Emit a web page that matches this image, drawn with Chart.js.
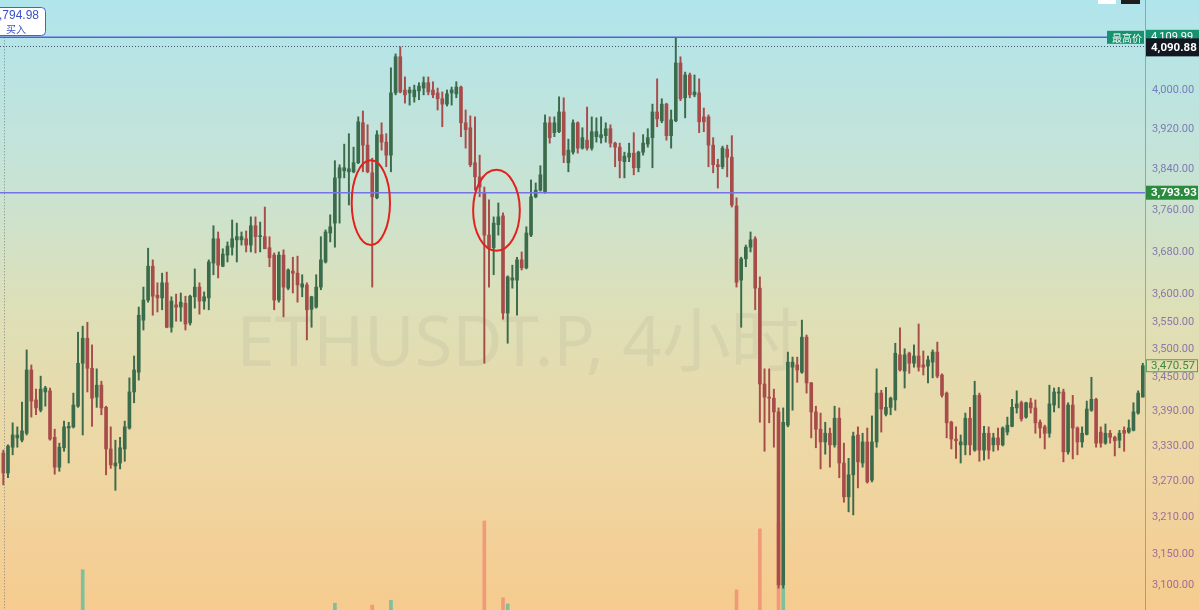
<!DOCTYPE html>
<html>
<head>
<meta charset="utf-8">
<script src="https://cdn.jsdelivr.net/npm/chart.js@4.4.1/dist/chart.umd.min.js"></script>
<style>
html, body { margin: 0; padding: 0; background: #f3d9a4; overflow: hidden; }
#wrap { width: 1199px; height: 610px; position: relative; }
</style>
</head>
<body>
<div id="wrap"><canvas id="chart" width="1199" height="610"></canvas></div>
<script>
// ETHUSDT.P 4h candles (oldest first)
const openPrices = [
  3318,3284,3328,3344,3340,3352,3463,3410,3392,3424,
  3426,3345,3294,3327,3361,3363,3399,3475,3520,3466,
  3415,3436,3397,3325,3296,3301,3325,3361,3424,3459,
  3553,3590,3653,3599,3594,3622,3540,3581,3577,3584,
  3548,3596,3614,3588,3594,3659,3705,3653,3674,3689,
  3703,3703,3705,3693,3730,3709,3709,3688,3674,3590,
  3674,3612,3644,3640,3614,3618,3573,3577,3614,3661,
  3716,3735,3823,3837,3835,3835,3853,3933,3888,3833,
  3784,3909,3894,3868,3994,4069,4000,3994,3986,3998,
  4004,4015,4000,3994,3982,3971,3994,3992,4006,3933,
  3923,3853,3825,3795,3712,3688,3732,3749,3566,3627,
  3627,3665,3650,3712,3786,3799,3795,3933,3913,3915,
  3955,3853,3874,3933,3882,3898,3882,3905,3903,3907,
  3921,3892,3884,3855,3864,3872,3843,3874,3890,3903,
  3955,3937,3971,3907,3937,4056,3984,4031,3990,3994,
  3945,3945,3888,3849,3845,3880,3864,3768,3627,3667,
  3689,3705,3612,3438,3415,3413,3389,3100,3366,3468,
  3472,3459,3522,3440,3389,3359,3337,3352,3332,3378,
  3301,3244,3281,3349,3301,3337,3272,3337,3422,3385,
  3397,3410,3490,3461,3493,3475,3488,3472,3470,3477,
  3495,3454,3422,3371,3342,3332,3332,3378,3323,3418,
  3323,3352,3332,3344,3332,3354,3364,3396,3405,3380,
  3405,3396,3371,3363,3352,3401,3422,3424,3320,3401,
  3361,3337,3350,3392,3411,3354,3335,3352,3345,3340,
  3357,3354,3357,3387,3415
];
const highPrices = [
  3323,3332,3370,3363,3406,3499,3472,3429,3452,3434,
  3431,3359,3335,3373,3371,3422,3531,3542,3549,3508,
  3465,3443,3399,3363,3340,3345,3373,3449,3488,3577,
  3614,3687,3665,3622,3640,3642,3596,3601,3603,3597,
  3599,3648,3622,3605,3665,3730,3718,3686,3699,3741,
  3735,3718,3720,3747,3747,3737,3766,3709,3678,3680,
  3684,3648,3670,3672,3637,3622,3597,3637,3709,3722,
  3751,3857,3849,3890,3911,3884,3945,3957,3929,3862,
  3917,3933,3911,4046,4075,4090,4027,4006,4010,4015,
  4027,4027,4017,4004,3996,4000,4006,4017,4008,3959,
  3947,3945,3868,3805,3780,3747,3774,3755,3635,3655,
  3670,3680,3728,3819,3813,3847,3949,3945,3945,3986,
  3984,3900,3939,3935,3923,3965,3945,3943,3945,3933,
  3929,3894,3892,3874,3892,3913,3876,3909,3921,3971,
  4023,3982,3973,3959,4109.99,4069,4037,4035,4031,4023,
  3963,3949,3903,3860,3886,3888,3907,3784,3670,3693,
  3718,3709,3633,3465,3465,3429,3396,3396,3495,3486,
  3486,3553,3526,3441,3399,3387,3371,3361,3399,3396,
  3335,3309,3354,3363,3352,3361,3382,3465,3427,3432,
  3415,3511,3539,3501,3495,3508,3546,3497,3488,3499,
  3513,3456,3424,3373,3363,3349,3387,3397,3443,3422,
  3364,3363,3352,3361,3363,3380,3411,3426,3408,3406,
  3413,3410,3375,3366,3436,3431,3432,3429,3405,3418,
  3363,3363,3408,3450,3413,3363,3368,3357,3347,3357,
  3363,3375,3405,3426,3475
];
const lowPrices = [
  3264,3276,3315,3328,3337,3349,3380,3384,3389,3399,
  3340,3282,3287,3321,3301,3361,3397,3349,3424,3364,
  3397,3384,3281,3292,3255,3291,3304,3359,3405,3445,
  3535,3586,3562,3568,3572,3539,3531,3551,3551,3535,
  3544,3575,3564,3573,3572,3637,3631,3652,3661,3674,
  3661,3693,3680,3680,3678,3680,3686,3652,3572,3586,
  3559,3609,3603,3586,3596,3517,3540,3575,3609,3659,
  3699,3689,3735,3823,3770,3833,3851,3835,3833,3614,
  3782,3878,3845,3835,3990,3994,3973,3969,3975,3980,
  3990,3990,3984,3959,3925,3967,3969,3984,3905,3882,
  3845,3799,3786,3475,3614,3637,3712,3555,3511,3612,
  3562,3646,3648,3709,3784,3797,3793,3892,3905,3913,
  3853,3835,3870,3872,3880,3878,3878,3894,3892,3894,
  3884,3845,3823,3823,3855,3829,3835,3868,3884,3843,
  3925,3933,3898,3882,3935,3978,3943,3984,3986,3913,
  3915,3845,3833,3803,3841,3825,3766,3614,3540,3652,
  3680,3572,3371,3321,3370,3328,3095,3095,3363,3392,
  3441,3457,3422,3344,3327,3291,3316,3294,3328,3276,
  3235,3219,3214,3259,3294,3267,3269,3328,3354,3382,
  3384,3392,3461,3431,3457,3468,3461,3454,3440,3449,
  3449,3415,3344,3325,3309,3301,3315,3315,3321,3304,
  3306,3308,3321,3323,3330,3349,3363,3387,3373,3378,
  3387,3352,3344,3325,3345,3389,3396,3303,3316,3308,
  3315,3328,3349,3390,3328,3328,3333,3335,3313,3327,
  3321,3352,3356,3385,3415
];
const closePrices = [
  3284,3330,3349,3349,3356,3463,3408,3396,3429,3431,
  3342,3294,3328,3363,3364,3401,3475,3520,3466,3413,
  3436,3396,3325,3298,3301,3327,3363,3424,3463,3562,
  3590,3653,3597,3594,3622,3540,3588,3577,3586,3546,
  3597,3614,3588,3596,3661,3705,3655,3676,3691,3705,
  3709,3709,3693,3730,3709,3711,3686,3669,3590,3674,
  3614,3646,3640,3618,3620,3572,3596,3614,3665,3718,
  3728,3823,3843,3843,3841,3853,3935,3888,3835,3786,
  3909,3894,3868,3994,4069,3996,3990,4000,4000,4008,
  4015,3996,3990,3982,3971,3992,4000,4006,3933,3919,
  3849,3825,3805,3712,3688,3735,3747,3566,3633,3631,
  3665,3650,3716,3786,3799,3829,3933,3903,3933,3955,
  3868,3878,3933,3882,3903,3882,3915,3915,3909,3921,
  3892,3884,3857,3866,3872,3843,3874,3892,3903,3955,
  3941,3971,3907,3939,4056,3982,4031,3990,3996,3935,
  3935,3888,3849,3845,3882,3864,3770,3623,3667,3689,
  3703,3612,3438,3415,3413,3389,3100,3371,3477,3477,
  3463,3522,3440,3389,3359,3337,3352,3332,3378,3301,
  3244,3281,3347,3303,3337,3269,3337,3422,3394,3397,
  3413,3493,3463,3490,3475,3488,3468,3468,3481,3495,
  3452,3418,3370,3342,3339,3337,3378,3332,3418,3323,
  3352,3323,3344,3332,3361,3366,3397,3403,3377,3405,
  3396,3370,3361,3352,3403,3424,3424,3320,3401,3361,
  3337,3352,3394,3411,3335,3335,3352,3345,3339,3352,
  3352,3361,3389,3422,3470.57
];

// only the volume bars that rise into view
const volIndex = [17, 71, 79, 83, 103, 107, 108, 157, 162, 166, 167];
const volValue = [66, 11, 8, 16, 146, 20, 10, 33, 133, 143, 44];

const priceTicks = [3100, 3150, 3210, 3270, 3330, 3390, 3450, 3500, 3550, 3600, 3680, 3760, 3840, 3920, 4000];

const highPrice = 4109.99;
const markPrice = 4090.88;
const alertPrice = 3793.93;
const lastPrice = 3470.57;
const orderPrice = 3794.98;

// red circles: candle index at centre, half width in candles, price top / bottom
const circleCenter = [78.7, 105.6];
const circleHalf = [4.1, 5.0];
const circleTop = [3858, 3839];
const circleBottom = [3693, 3682];

const UP = '#3a6b4b';
const DOWN = '#a84c4a';
const VOL_UP = '#7fbf9c';
const VOL_DOWN = '#f19a78';

const fmt = v => Number(v).toLocaleString('en-US', {minimumFractionDigits: 2, maximumFractionDigits: 2});
const isUp = i => closePrices[i] >= openPrices[i];

const wicks = closePrices.map((_, i) => ({x: i, y: [lowPrices[i], highPrices[i]]}));
const bodies = closePrices.map((_, i) => ({x: i, y: [openPrices[i], closePrices[i]]}));
const vols = volIndex.map((i, k) => ({x: i, y: volValue[k]}));

const backdrop = {
    id: 'backdrop',
    beforeDraw(chart) {
        const ctx = chart.ctx;
        const g = ctx.createLinearGradient(0, 0, 0, chart.height);
        g.addColorStop(0, '#b0e5ec');
        g.addColorStop(0.3, '#c8e3d4');
        g.addColorStop(0.5, '#dde0b8');
        g.addColorStop(0.75, '#eed7a4');
        g.addColorStop(1, '#f6cb8e');
        ctx.save();
        ctx.fillStyle = g;
        ctx.fillRect(0, 0, chart.width, chart.height);
        ctx.restore();
    },
    beforeDatasetsDraw(chart) {
        // watermark
        const ctx = chart.ctx;
        const text = 'ETHUSDT.P, 4小时';
        ctx.save();
        ctx.font = '72px "Noto Sans", "Noto Sans CJK SC", sans-serif';
        const size = 72 * 563 / ctx.measureText(text).width;
        ctx.font = size + 'px "Noto Sans", "Noto Sans CJK SC", sans-serif';
        ctx.fillStyle = 'rgba(110,110,110,0.09)';
        ctx.textAlign = 'center';
        ctx.textBaseline = 'alphabetic';
        ctx.fillText(text, 518, 366);
        ctx.restore();
    }
};

function tag(ctx, x, y, w, h, bg, fg, text, font, border) {
    ctx.fillStyle = bg;
    ctx.fillRect(x, y - h / 2, w, h);
    if (border) {
        ctx.strokeStyle = border;
        ctx.lineWidth = 1;
        ctx.strokeRect(x + 0.5, y - h / 2 + 0.5, w - 1, h - 1);
    }
    ctx.fillStyle = fg;
    ctx.font = font;
    ctx.textAlign = 'left';
    ctx.textBaseline = 'middle';
    ctx.fillText(text, x + 5, y + 0.5);
}

const overlay = {
    id: 'overlay',
    afterDraw(chart) {
        const ctx = chart.ctx;
        const xs = chart.scales.x, ys = chart.scales.y;
        const area = chart.chartArea;
        const yHigh = ys.getPixelForValue(highPrice);
        const yMark = ys.getPixelForValue(markPrice);
        const yAlert = ys.getPixelForValue(alertPrice);
        const yLast = ys.getPixelForValue(lastPrice);
        ctx.save();

        // price lines
        ctx.lineWidth = 1.5;
        ctx.strokeStyle = '#5060e0';
        ctx.beginPath();
        ctx.moveTo(0, yHigh);
        ctx.lineTo(1107, yHigh);
        ctx.stroke();

        ctx.lineWidth = 1;
        ctx.setLineDash([1, 2]);
        ctx.strokeStyle = 'rgba(40,50,80,0.8)';
        ctx.beginPath();
        ctx.moveTo(0, Math.round(yMark) + 0.5);
        ctx.lineTo(area.right, Math.round(yMark) + 0.5);
        ctx.stroke();

        ctx.strokeStyle = 'rgba(90,100,110,0.7)';
        ctx.beginPath();
        ctx.moveTo(4.5, yHigh);
        ctx.lineTo(4.5, area.bottom);
        ctx.stroke();
        ctx.setLineDash([]);

        ctx.lineWidth = 1.5;
        ctx.strokeStyle = '#7474e4';
        ctx.beginPath();
        ctx.moveTo(0, yAlert);
        ctx.lineTo(area.right, yAlert);
        ctx.stroke();

        // red circles
        ctx.strokeStyle = '#e1221d';
        ctx.lineWidth = 2;
        circleCenter.forEach((c, k) => {
            const cx = xs.getPixelForValue(c);
            const rx = xs.getPixelForValue(c + circleHalf[k]) - cx;
            const top = ys.getPixelForValue(circleTop[k]);
            const bot = ys.getPixelForValue(circleBottom[k]);
            ctx.beginPath();
            ctx.ellipse(cx, (top + bot) / 2, rx, (bot - top) / 2, 0, 0, Math.PI * 2);
            ctx.stroke();
        });

        // buy order box, top left
        ctx.fillStyle = '#ffffff';
        ctx.strokeStyle = '#4a60d0';
        ctx.lineWidth = 1;
        ctx.beginPath();
        ctx.roundRect(-10.5, 7.5, 56, 28, 4);
        ctx.fill();
        ctx.stroke();
        ctx.fillStyle = '#3a52c4';
        ctx.font = '12px "Liberation Sans", sans-serif';
        ctx.textAlign = 'right';
        ctx.textBaseline = 'middle';
        ctx.fillText(fmt(orderPrice), 39, 16);
        ctx.font = '10px "Noto Sans CJK SC", sans-serif';
        ctx.textAlign = 'center';
        ctx.fillText('买入', 16, 29);

        // top right buttons
        ctx.fillStyle = '#ffffff';
        ctx.fillRect(1098, 0, 18, 4);
        ctx.fillStyle = '#1e1e1e';
        ctx.fillRect(1121, 0, 19, 4);

        // axis tags
        const ax = area.right + 1;
        tag(ctx, 1107, yHigh, 37, 13, '#17926e', '#ffffff', '最高价', '10px "Noto Sans CJK SC", sans-serif');
        tag(ctx, ax, yHigh - 1, 53, 13, '#17926e', '#ffffff', fmt(highPrice), '11px Roboto, sans-serif');
        tag(ctx, ax, yMark + 1, 53, 18, '#131722', '#ffffff', fmt(markPrice), 'bold 11.5px Roboto, sans-serif');
        tag(ctx, ax, yAlert, 52, 14, '#2b8b3d', '#ffffff', fmt(alertPrice), 'bold 11.5px Roboto, sans-serif');
        tag(ctx, ax, yLast, 52, 13, '#e6dcad', '#3d8a46', fmt(lastPrice), '11.5px Roboto, sans-serif', '#55a05c');
        ctx.restore();
    }
};

new Chart(document.getElementById('chart'), {
    type: 'bar',
    data: {
        datasets: [
            {
                data: vols,
                yAxisID: 'yv',
                grouped: false,
                barThickness: 3,
                backgroundColor: volIndex.map(i => isUp(i) ? VOL_UP : VOL_DOWN),
                order: 3
            },
            {
                data: wicks,
                grouped: false,
                barThickness: 1.3,
                backgroundColor: closePrices.map((_, i) => isUp(i) ? UP : DOWN),
                order: 2
            },
            {
                data: bodies,
                grouped: false,
                barThickness: 3,
                minBarLength: 1,
                backgroundColor: closePrices.map((_, i) => isUp(i) ? UP : DOWN),
                order: 1
            }
        ]
    },
    options: {
        responsive: false,
        animation: false,
        events: [],
        layout: {padding: 0},
        plugins: {legend: {display: false}, tooltip: {enabled: false}},
        scales: {
            x: {type: 'linear', offset: false, min: -0.71, max: 244.47, display: false},
            y: {
                type: 'logarithmic',
                position: 'right',
                bounds: 'data',
                min: 3060.4,
                max: 4189.7,
                afterBuildTicks: s => { s.ticks = priceTicks.map(v => ({value: v})); },
                afterFit: s => {
                    s.width = 54;
                    s.paddingTop = 0;
                    s.paddingBottom = 0;
                },
                grid: {display: false, drawTicks: false},
                border: {display: true, color: 'rgba(125,140,150,0.7)'},
                ticks: {
                    autoSkip: false,
                    padding: 7,
                    font: {family: 'Roboto', size: 11},
                    color: c => {
                        const t = Math.max(0, Math.min(1, (c.tick.value - 3100) / 900));
                        const r = Math.round(160 - 40 * t), g = Math.round(110 + 15 * t), b = Math.round(150 + 38 * t);
                        return `rgb(${r},${g},${b})`;
                    },
                    callback: v => fmt(v)
                }
            },
            yv: {type: 'linear', display: false, min: 0, max: 1000}
        }
    },
    plugins: [backdrop, overlay]
});
</script>
</body>
</html>
